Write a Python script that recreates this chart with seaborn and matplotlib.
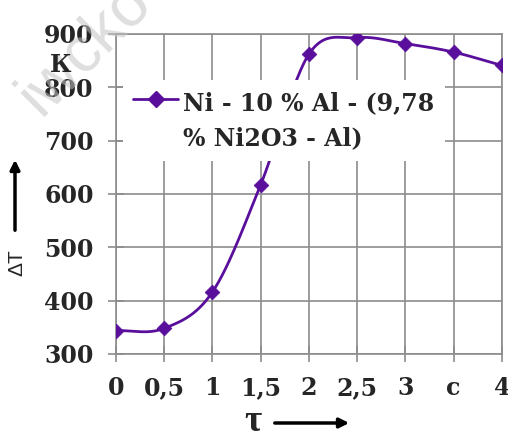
import numpy as np
import pandas as pd
import matplotlib
matplotlib.use('Agg')
import matplotlib.pyplot as plt
from matplotlib.lines import Line2D
from matplotlib.legend_handler import HandlerLine2D
import seaborn as sns

sns.set_style('whitegrid')
plt.rcParams['font.family'] = ['DejaVu Serif']

# data
times = [0, 0.5, 1, 1.5, 2, 2.5, 3, 3.5, 4]
delta_t = [344, 348, 416, 617, 862, 893, 882, 866, 841]
x_labels = ['0', '0,5', '1', '1,5', '2', '2,5', '3', 'c', '4']
y_ticks = [300, 400, 500, 600, 700, 800, 900]
series_name = 'Ni - 10 % Al - (9,78\n% Ni2O3 - Al)'

purple = '#5a0f9c'
grid_c = '#8c8c8c'
fs = 17


def smooth(xs, ys, n=30):
    # catmull-rom curve through the points, like the "smoothed line" option
    xs = np.asarray(xs, float)
    ys = np.asarray(ys, float)
    px = np.concatenate([[2 * xs[0] - xs[1]], xs, [2 * xs[-1] - xs[-2]]])
    py = np.concatenate([[ys[0]], ys, [2 * ys[-1] - ys[-2]]])
    out_x, out_y = [], []
    t = np.linspace(0, 1, n)
    for i in range(1, len(px) - 2):
        for p, out in ((px, out_x), (py, out_y)):
            p0, p1, p2, p3 = p[i - 1], p[i], p[i + 1], p[i + 2]
            out.extend(0.5 * ((2 * p1) + (-p0 + p2) * t
                              + (2 * p0 - 5 * p1 + 4 * p2 - p3) * t ** 2
                              + (-p0 + 3 * p1 - 3 * p2 + p3) * t ** 3))
    return np.array(out_x), np.array(out_y)


class TopLineHandler(HandlerLine2D):
    # put the legend sample next to the first line of a two-line label
    def create_artists(self, legend, orig_handle, xdescent, ydescent,
                       width, height, fontsize, trans):
        shift = 0.95 * fontsize
        return super().create_artists(legend, orig_handle, xdescent, ydescent,
                                      width, height + 2 * shift, fontsize, trans)


sx, sy = smooth(times, delta_t)
curve = pd.DataFrame({'x': sx, 'y': sy})
points = pd.DataFrame({'x': times, 'y': delta_t})

fig = plt.figure(figsize=(5.08, 4.33), dpi=100)
ax = fig.add_axes([0.228, 0.1825, 0.76, 0.739])

sns.lineplot(data=curve, x='x', y='y', sort=False, color=purple, lw=2, ax=ax, zorder=3)
sns.scatterplot(data=points, x='x', y='y', marker='D', color=purple, s=55,
                edgecolor=purple, ax=ax, zorder=4)

ax.set_xlim(0, 4)
ax.set_ylim(300, 900)
ax.set_xticks(times)
ax.set_xticklabels(x_labels)
ax.set_yticks(y_ticks)
ax.set_xlabel('')
ax.set_ylabel('')
ax.grid(True, which='major', axis='both', color=grid_c, lw=1.2)
for s in ax.spines.values():
    s.set_color(grid_c)
    s.set_linewidth(1.2)
ax.tick_params(direction='inout', length=12, width=1.2, color=grid_c,
               labelsize=fs, pad=10, bottom=True, left=True)
for lab in ax.get_xticklabels() + ax.get_yticklabels():
    lab.set_fontweight('bold')

handle = Line2D([], [], color=purple, lw=2, marker='D', markersize=8)
leg = ax.legend([handle], [series_name], loc='upper left',
                bbox_to_anchor=(0.018, 0.856), borderaxespad=0,
                prop={'weight': 'bold', 'size': fs}, frameon=True,
                facecolor='white', edgecolor='none', framealpha=1,
                handlelength=1.9, handletextpad=0.2, borderpad=0.45,
                handler_map={Line2D: TopLineHandler()})
leg.get_texts()[0].set_linespacing(1.6)
leg.set_zorder(5)

# axis captions with arrows
fig.text(61, 368, 'К', transform=None, ha='center', va='center',
         fontsize=fs, fontweight='bold')
fig.text(17, 170, 'ΔT', transform=None, ha='center', va='center',
         rotation=90, fontsize=15, family='Liberation Sans')
ax.annotate('', xy=(15, 276), xytext=(15, 200), xycoords='figure pixels',
            textcoords='figure pixels', annotation_clip=False,
            arrowprops=dict(arrowstyle='-|>', color='black', lw=2.5,
                            mutation_scale=14))
fig.text(253, 2, 'τ', transform=None, ha='center', va='baseline',
         fontsize=27, fontweight='bold', family='Liberation Serif')
ax.annotate('', xy=(352, 10), xytext=(272, 10), xycoords='figure pixels',
            textcoords='figure pixels', annotation_clip=False,
            arrowprops=dict(arrowstyle='-|>', color='black', lw=2.5,
                            mutation_scale=14))

# faint watermark in the corner
fig.text(85, 385, 'iwcko', transform=None, ha='center', va='center',
         rotation=45, fontsize=46, color='#c4c4c4', alpha=0.55,
         family='Liberation Sans', zorder=0)

fig.savefig('out.png', dpi=100)
